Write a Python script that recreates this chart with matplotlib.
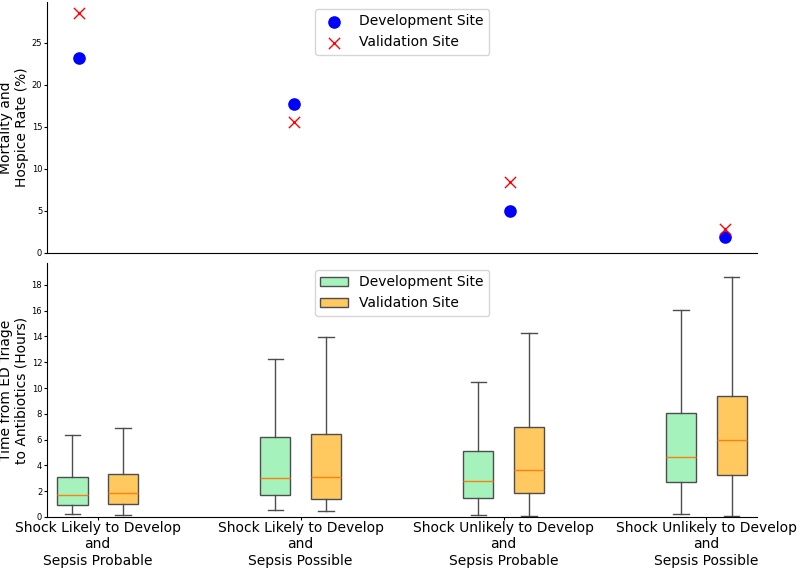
import matplotlib
matplotlib.use("Agg")
from matplotlib import pyplot as plt
import numpy as np


categories = ["Shock Likely to Develop\nand\nSepsis Probable",
              "Shock Likely to Develop\nand\nSepsis Possible",
              "Shock Unlikely to Develop\nand\nSepsis Probable",
              "Shock Unlikely to Develop\nand\nSepsis Possible"]

# mortality and hospice rate (%)
dev_rate = [23.2, 17.7, 5.0, 1.9]
val_rate = [28.5, 15.6, 8.4, 2.9]

# time to antibiotics (hours): lower whisker, q1, median, q3, upper whisker
dev_low = [0.23, 0.51, 0.12, 0.20]
dev_q1 = [0.95, 1.73, 1.47, 2.74]
dev_med = [1.73, 3.02, 2.76, 4.62]
dev_q3 = [3.10, 6.20, 5.09, 8.03]
dev_high = [6.36, 12.25, 10.50, 16.05]

val_low = [0.18, 0.47, 0.10, 0.05]
val_q1 = [1.00, 1.40, 1.88, 3.26]
val_med = [1.86, 3.10, 3.64, 5.99]
val_q3 = [3.33, 6.43, 6.95, 9.38]
val_high = [6.90, 13.95, 14.30, 18.60]

dev_color = "#a6f2bc"
val_color = "#ffc95f"
edge = "#4d4d4d"


def make_stats(low, q1, med, q3, high):
    return [dict(whislo=a, q1=b, med=c, q3=d, whishi=e, fliers=[])
            for a, b, c, d, e in zip(low, q1, med, q3, high)]


fig = plt.figure(figsize=(7.97, 5.69), dpi=100)
ax1 = fig.add_axes([0.059, 0.5554, 0.891, 0.4411])
ax2 = fig.add_axes([0.059, 0.0914, 0.891, 0.4464])

x = np.arange(len(categories))

# top: rates
ax1.scatter(x, dev_rate, s=65, color="blue", marker="o", label="Development Site")
ax1.scatter(x, val_rate, s=65, color="red", marker="x", linewidths=1, label="Validation Site")
ax1.set_ylim(bottom=0)
ax1.set_xticks([])
ax1.set_ylabel("Mortality and\nHospice Rate (%)", fontsize=10, labelpad=2)
ax1.tick_params(axis="y", labelsize=6, length=2, pad=1.5)
ax1.legend(loc="upper center", fontsize=10)
for s in ["top", "right"]:
    ax1.spines[s].set_visible(False)

# bottom: boxplots
offset = 0.125
width = 0.15
for stats, shift, col, lab in [
        (make_stats(dev_low, dev_q1, dev_med, dev_q3, dev_high), -offset, dev_color, "Development Site"),
        (make_stats(val_low, val_q1, val_med, val_q3, val_high), offset, val_color, "Validation Site")]:
    bp = ax2.bxp(stats, positions=x + shift, widths=width, patch_artist=True,
                 showfliers=False, manage_ticks=False,
                 boxprops=dict(facecolor=col, edgecolor=edge, linewidth=1),
                 whiskerprops=dict(color=edge, linewidth=1),
                 capprops=dict(color=edge, linewidth=1),
                 medianprops=dict(color="#ff7f0e", linewidth=1))
    bp["boxes"][0].set_label(lab)

ax2.set_xlim(-0.25, 3.25)
ax2.set_ylim(0, 19.7)
ax2.set_xticks(x)
ax2.set_xticklabels(categories, fontsize=10)
ax2.tick_params(axis="x", length=2, pad=1)
ax2.set_yticks(np.arange(0, 19, 2))
ax2.tick_params(axis="y", labelsize=6, length=2, pad=1.5)
ax2.set_ylabel("Time from ED Triage\nto Antibiotics (Hours)", fontsize=10, labelpad=2)
ax2.legend(loc="upper center", fontsize=10)
for s in ["top", "right"]:
    ax2.spines[s].set_visible(False)

plt.savefig("out.png", dpi=100)
